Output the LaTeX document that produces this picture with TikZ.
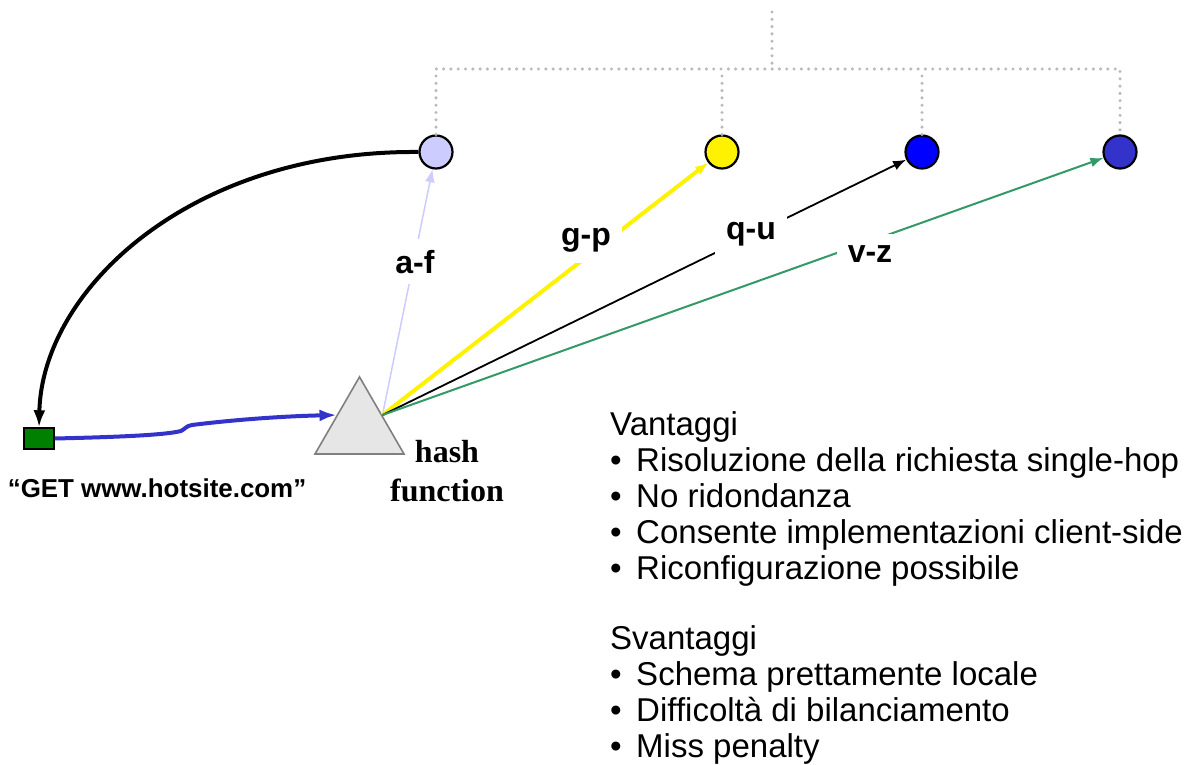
\documentclass[tikz,border=0pt]{standalone}
\usepackage{fontspec}
\setmainfont{Liberation Sans}
\newfontfamily\hashfont{Liberation Serif}
\usetikzlibrary{arrows.meta,positioning,shapes.geometric,matrix}
\definecolor{lavender}{RGB}{204,204,255}
\definecolor{srvblue}{RGB}{0,0,255}
\definecolor{darkblue}{RGB}{51,51,204}
\definecolor{seagreen}{RGB}{51,153,102}
\definecolor{okgreen}{RGB}{0,128,0}
\definecolor{treegray}{RGB}{185,185,185}
\definecolor{hashgray}{RGB}{230,230,230}
\newcommand{\itm}{•\hspace{14.5pt}}

\tikzset{
  server/.style={circle, draw, line width=2.2pt, minimum size=33pt, inner sep=0pt},
  tree/.style={treegray, line width=3.4pt, line cap=round, dash pattern=on 0pt off 7.3pt},
  keyrange/.style={font=\fontsize{32}{36}\selectfont\bfseries, fill=white, inner sep=11pt, anchor=base},
  tip/.style={-{Latex[length=13pt,width=10pt]}},
  bigtip/.style={-{Latex[length=17pt,width=12pt]}},
  list/.style={matrix of nodes, inner sep=0pt, row sep=5pt,
    nodes={inner sep=0pt, text height=24pt, text depth=7pt, font=\fontsize{33}{36}\selectfont}}
}

\begin{document}
\begin{tikzpicture}[x=1pt, y=-1pt, column 1/.style={anchor=base west}]
\useasboundingbox (0,0) rectangle (1187,765);

% servers and the tree above them
\node[server, fill=lavender] (S1) at (436,152) {};
\node[server, fill=yellow]   (S2) at (722,152) {};
\node[server, fill=srvblue]  (S3) at (922,152) {};
\node[server, fill=darkblue] (S4) at (1120,152) {};

\coordinate (T) at (772,12);
\coordinate (bar) at (0,69);
\draw[tree] (S1.north) -- (S1.north |- bar) -- (S4.north |- bar) -- (S4.north);
\foreach \s in {S2,S3}
  \draw[tree] (\s.north) -- (\s.north |- bar);
\draw[tree] (T) -- (T |- bar);

% client and hash function
\node[draw, line width=1.4pt, fill=okgreen, minimum width=30pt, minimum height=21pt, inner sep=0pt] (C) at (39,438.5) {};
\node[regular polygon, regular polygon sides=3, minimum size=102.8pt, inner sep=0pt,
  draw=gray, line width=1.6pt, fill=hashgray] (H) at (359.5,428.3) {};

\node[anchor=base] (get) at (157,497) {\fontsize{25.9}{30}\selectfont\bfseries “GET www.hotsite.com”};
\node[anchor=north, align=center, inner sep=0pt, font=\hashfont\fontsize{32}{39}\selectfont\bfseries] (hf) at (447,440) {hash\\function};

\draw[darkblue, line width=4pt, bigtip] (C.east) .. controls (120,437) and (165,435) .. (181,431)
  .. controls (185,429) and (186,426) .. (192,425) .. controls (240,419) and (290,416) .. (H.side 1);
\draw[line width=4pt, bigtip] (S1.west) .. controls (190,150) and (42,290) .. (C.north);

% ranges of the hash
\draw[lavender, line width=1.5pt, tip] (H.side 3) -- (S1);
\draw[yellow, line width=4pt, tip] (H.side 3) -- (S2);
\draw[line width=1.8pt, tip] (H.side 3) -- (S3);
\draw[seagreen, line width=2pt, tip] (H.side 3) -- (S4);

\node[keyrange] (af) at (415,273) {a-f};
\node[keyrange] (gp) at (586,245) {g-p};
\node[keyrange] (qu) at (751,240) {q-u};
\node[keyrange] (vz) at (870,262) {v-z};

% pros and cons
\matrix (pro) [list, anchor=north west] at (610,411) {
  Vantaggi \\
  \itm Risoluzione della richiesta single-hop \\
  \itm No ridondanza \\
  \itm Consente implementazioni client-side \\
  \itm Riconfigurazione possibile \\
};
\matrix (con) [list, below right=39pt and 0pt of pro.south west] {
  Svantaggi \\
  \itm Schema prettamente locale \\
  \itm Difficoltà di bilanciamento \\
  \itm Miss penalty \\
};
\end{tikzpicture}
\end{document}
